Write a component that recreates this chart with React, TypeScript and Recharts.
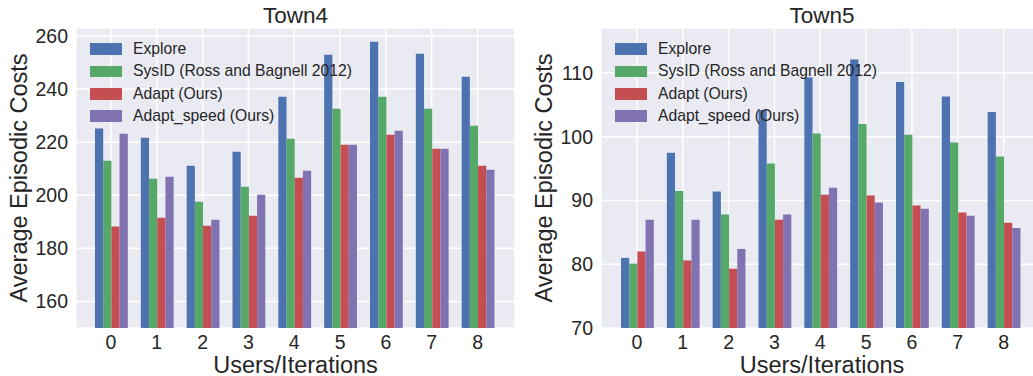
import React from "react";
import { BarChart, Bar, XAxis, YAxis, CartesianGrid, Legend, Label } from "recharts";

const categories = ["0", "1", "2", "3", "4", "5", "6", "7", "8"];
const seriesNames = ["Explore", "SysID (Ross and Bagnell 2012)", "Adapt (Ours)", "Adapt_speed (Ours)"];
const seriesColors = ["#4C72B0", "#55A868", "#C44E52", "#8172B2"];

const town4Explore = [225.1, 221.7, 211.1, 216.4, 237.1, 252.9, 257.8, 253.3, 244.6];
const town4SysID = [213.0, 206.2, 197.6, 203.2, 221.3, 232.6, 237.1, 232.6, 226.2];
const town4Adapt = [188.2, 191.5, 188.5, 192.3, 206.6, 219.0, 222.8, 217.5, 211.1];
const town4Speed = [223.2, 207.0, 190.8, 200.2, 209.2, 219.0, 224.3, 217.5, 209.6];
const town4Ticks = [160, 180, 200, 220, 240, 260];

const town5Explore = [81.0, 97.5, 91.4, 104.2, 109.3, 112.1, 108.6, 106.3, 103.9];
const town5SysID = [80.1, 91.5, 87.8, 95.8, 100.5, 102.0, 100.3, 99.1, 96.9];
const town5Adapt = [82.0, 80.6, 79.3, 87.0, 90.9, 90.8, 89.2, 88.1, 86.5];
const town5Speed = [87.0, 87.0, 82.4, 87.8, 92.0, 89.7, 88.7, 87.6, 85.7];
const town5Ticks = [70, 80, 90, 100, 110];

const keys = ["s0", "s1", "s2", "s3"];
const textColor = "#262626";

function buildRows(series: number[][]) {
  return categories.map((c, i) => {
    const row: Record<string, string | number> = { name: c };
    series.forEach((s, j) => (row[keys[j]] = s[i]));
    return row;
  });
}

const town4Data = buildRows([town4Explore, town4SysID, town4Adapt, town4Speed]);
const town5Data = buildRows([town5Explore, town5SysID, town5Adapt, town5Speed]);

// keep the legend in the series order, not alphabetical
function LegendBox({ payload }: any) {
  const items = [...(payload || [])].sort(
    (a: any, b: any) => seriesNames.indexOf(a.value) - seriesNames.indexOf(b.value)
  );
  return (
    <div style={{ fontSize: 15.7, color: textColor, lineHeight: "22.4px" }}>
      {items.map((p: any) => (
        <div key={p.value} style={{ display: "flex", alignItems: "center", height: 22.4, whiteSpace: "nowrap" }}>
          <span style={{ display: "inline-block", width: 32, height: 11.7, background: p.color, marginRight: 11 }} />
          <span>{p.value}</span>
        </div>
      ))}
    </div>
  );
}

interface PanelProps {
  title: string;
  data: Record<string, string | number>[];
  domain: [number, number];
  ticks: number[];
  width: number;
  yWidth: number;
  yLabelX: number;
  pad: { left: number; right: number };
  legendLeft: number;
}

function Panel({ title, data, domain, ticks, width, yWidth, yLabelX, pad, legendLeft }: PanelProps) {
  return (
    <BarChart
      width={width}
      height={376}
      data={data}
      margin={{ top: 28, right: width === 516 ? 1 : 0, bottom: 0, left: 0 }}
      barGap={0}
      barSize={8.2}
    >
      <CartesianGrid fill="#EAEAF2" fillOpacity={1} stroke="#FFFFFF" strokeWidth={1.5} />
      <XAxis
        dataKey="name"
        height={48}
        padding={pad}
        axisLine={false}
        tickLine={false}
        tickSize={0}
        tickMargin={7}
        tick={{ fontSize: 19.5, fill: textColor }}
      >
        <Label
          content={({ viewBox }: any) => (
            <text x={viewBox.x + viewBox.width / 2} y={372.5} textAnchor="middle" fontSize={23.5} fill={textColor}>
              Users/Iterations
            </text>
          )}
        />
        <Label
          content={({ viewBox }: any) => (
            <text x={viewBox.x + viewBox.width / 2} y={22.7} textAnchor="middle" fontSize={22.5} fill={textColor}>
              {title}
            </text>
          )}
        />
      </XAxis>
      <YAxis
        type="number"
        domain={domain}
        ticks={ticks}
        allowDataOverflow
        width={yWidth}
        axisLine={false}
        tickLine={false}
        tickSize={0}
        tickMargin={8}
        tick={{ fontSize: 19.5, fill: textColor }}
      >
        <Label
          content={({ viewBox }: any) => {
            const cy = viewBox.y + viewBox.height / 2;
            return (
              <text
                x={yLabelX}
                y={cy}
                transform={`rotate(-90, ${yLabelX}, ${cy})`}
                textAnchor="middle"
                fontSize={23.5}
                fill={textColor}
              >
                Average Episodic Costs
              </text>
            );
          }}
        />
      </YAxis>
      <Legend
        layout="vertical"
        align="center"
        verticalAlign="middle"
        itemSorter="dataKey"
        wrapperStyle={{ top: 37.8, left: legendLeft, width: "auto" }}
        content={LegendBox}
      />
      {keys.map((k, j) => (
        <Bar key={k} dataKey={k} name={seriesNames[j]} fill={seriesColors[j]} isAnimationActive={false} />
      ))}
    </BarChart>
  );
}

export default function App() {
  return (
    <div
      style={{
        position: "absolute",
        left: 0,
        top: 0,
        width: 1033,
        height: 376,
        overflow: "hidden",
        background: "#FFFFFF",
        fontFamily: "'Liberation Sans', Arial, sans-serif",
      }}
    >
      <div style={{ position: "absolute", left: 0, top: 0 }}>
        <Panel
          title="Town4"
          data={town4Data}
          domain={[150, 263]}
          ticks={town4Ticks}
          width={516}
          yWidth={76}
          yLabelX={26.8}
          pad={{ left: 12, right: 14.5 }}
          legendLeft={90}
        />
      </div>
      <div style={{ position: "absolute", left: 516, top: 0 }}>
        <Panel
          title="Town5"
          data={town5Data}
          domain={[70, 117.06]}
          ticks={town5Ticks}
          width={527}
          yWidth={85}
          yLabelX={36}
          pad={{ left: 13, right: 16.5 }}
          legendLeft={99}
        />
      </div>
    </div>
  );
}
